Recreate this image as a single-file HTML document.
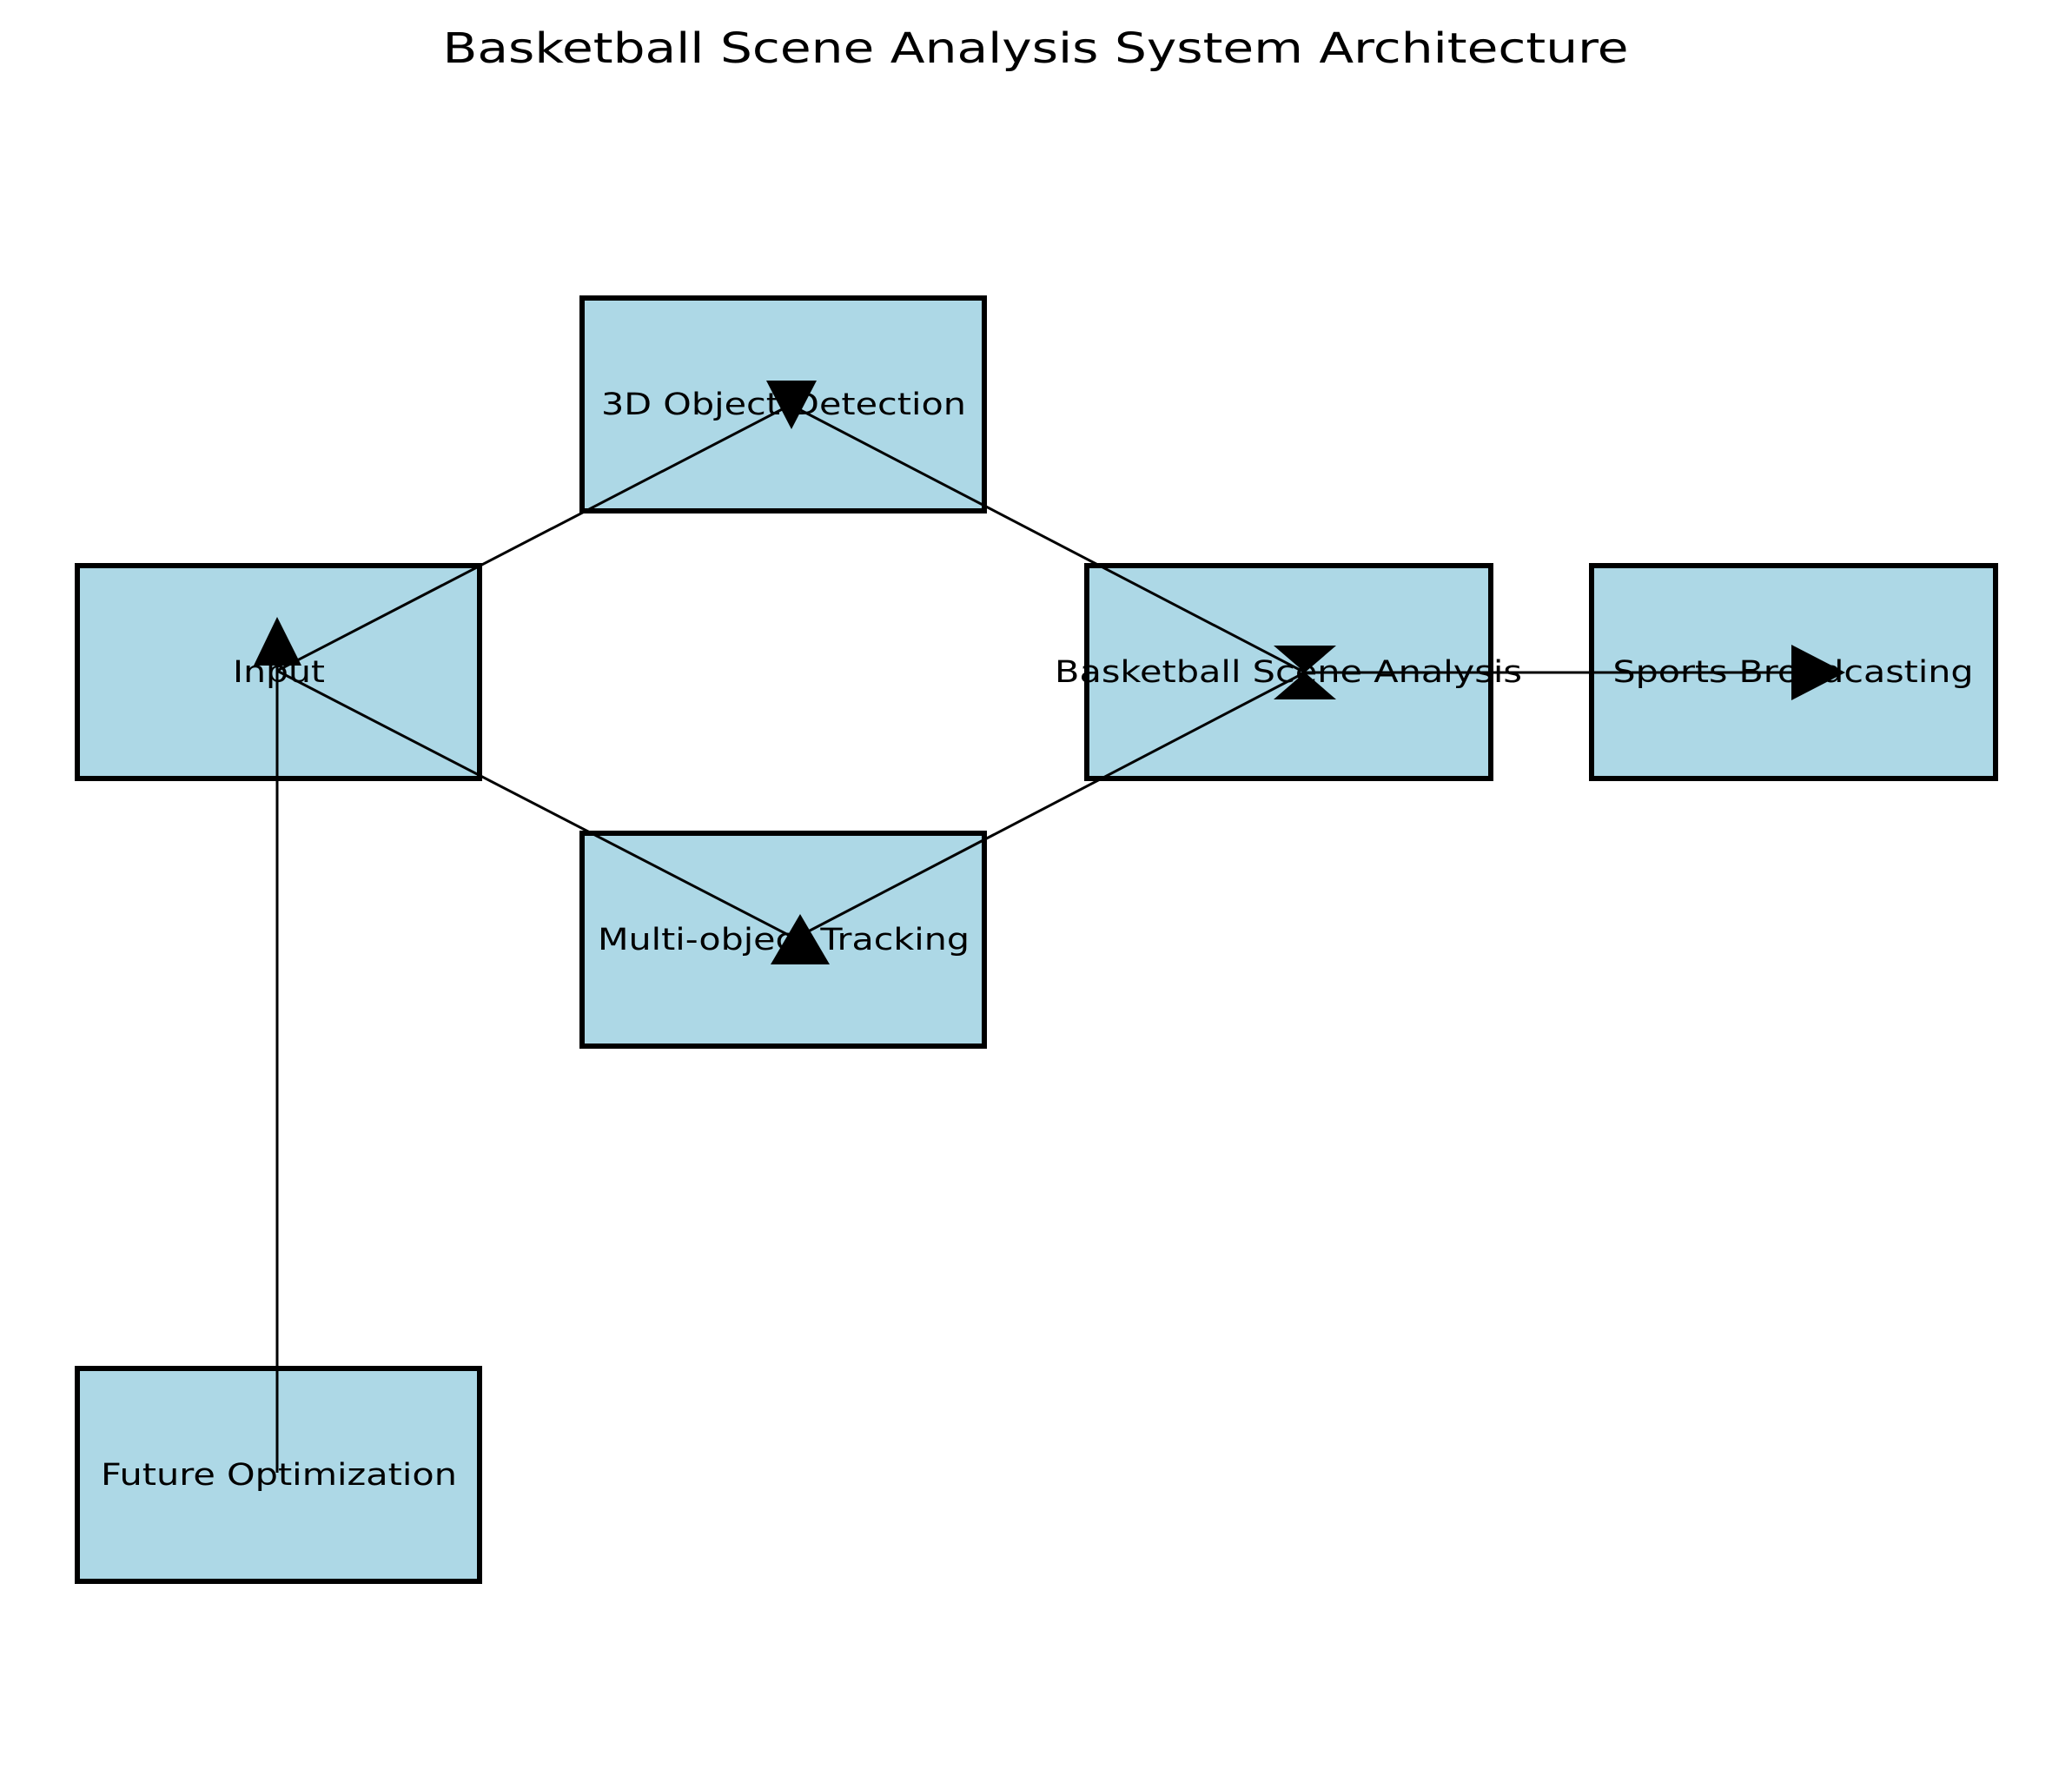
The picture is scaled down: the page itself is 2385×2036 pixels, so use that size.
<!DOCTYPE html>
<html><head><meta charset="utf-8"><style>
html,body{margin:0;padding:0;background:#fff;}
svg{display:block;}
text{font-family:"DejaVu Sans","Liberation Sans",sans-serif;fill:#000;}
</style></head><body>
<svg width="2385" height="2036" viewBox="0 0 2385 2036" xmlns="http://www.w3.org/2000/svg">
<rect width="2385" height="2036" fill="#fff"/>
<text x="1192" y="72" font-size="48" text-anchor="middle" textLength="1365" lengthAdjust="spacingAndGlyphs">Basketball Scene Analysis System Architecture</text>
<g fill="#add8e6" stroke="#000" stroke-width="6">
<rect x="89" y="651" width="463" height="245"/>
<rect x="670" y="343" width="463" height="245"/>
<rect x="670" y="959" width="463" height="245"/>
<rect x="1251" y="651" width="465" height="245"/>
<rect x="1832" y="651" width="465" height="245"/>
<rect x="89" y="1575" width="463" height="245"/>
</g>
<g font-size="35" text-anchor="middle">
<text x="321" y="785" textLength="106" lengthAdjust="spacingAndGlyphs">Input</text>
<text x="902" y="477" textLength="420" lengthAdjust="spacingAndGlyphs">3D Object Detection</text>
<text x="902" y="1093" textLength="428" lengthAdjust="spacingAndGlyphs">Multi-object Tracking</text>
<text x="1483" y="785" textLength="538" lengthAdjust="spacingAndGlyphs">Basketball Scene Analysis</text>
<text x="2064" y="785" textLength="415" lengthAdjust="spacingAndGlyphs">Sports Broadcasting</text>
<text x="321" y="1709" textLength="410" lengthAdjust="spacingAndGlyphs">Future Optimization</text>
</g>
<g stroke="#000" stroke-width="3" fill="none">
<line x1="319" y1="772" x2="910" y2="466"/>
<line x1="319" y1="772" x2="915" y2="1080"/>
<line x1="910" y1="466" x2="1502" y2="774"/>
<line x1="915" y1="1080" x2="1502" y2="774"/>
<line x1="1502" y1="774" x2="2118" y2="774"/>
<line x1="319" y1="1695" x2="319" y2="740"/>
</g>
<g fill="#000">
<polygon points="292,766 347,766 319,710"/>
<polygon points="882,438 940,438 911,494"/>
<polygon points="887,1110 955,1110 921,1052"/>
<polygon points="1466,743 1538,743 1502,774"/>
<polygon points="1466,805 1538,805 1502,774"/>
<polygon points="2062,742 2062,806 2124,774"/>
</g>
</svg>
</body></html>
